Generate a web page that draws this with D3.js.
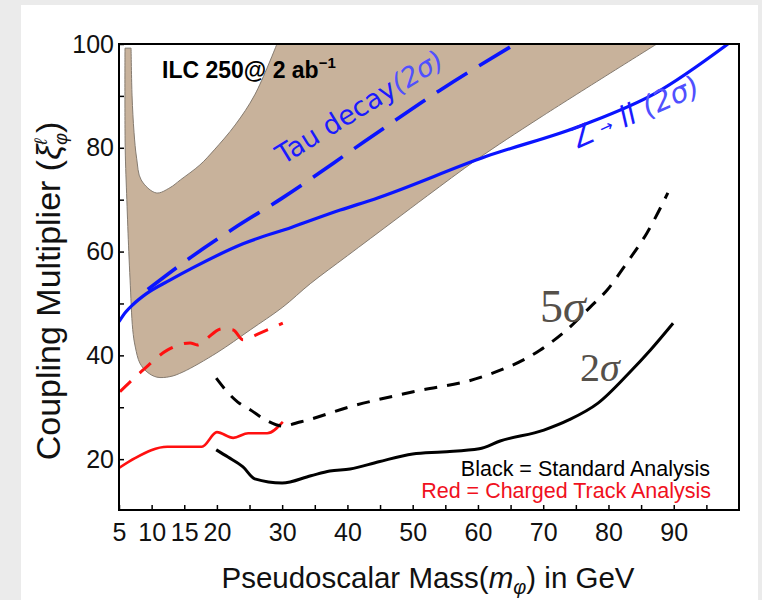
<!DOCTYPE html>
<html>
<head>
<meta charset="utf-8">
<script src="https://cdn.jsdelivr.net/npm/d3@7"></script>
<style>
  body { margin: 0; background: #ebebeb; }
  text { font-family: "Liberation Sans", Arial, sans-serif; }
</style>
</head>
<body>
<div id="chart"></div>
<script>
// axis ticks
const xTicks = d3.range(5, 100, 5);
const xLabels = [5, 10, 15, 20, 30, 40, 50, 60, 70, 80, 90];
const yTicks = d3.range(20, 101, 10);
const yLabels = [20, 40, 60, 80, 100];

// brown allowed region: outer edge (down the spike, round the bottom, up to the top)
const bandOuter = [[5.92, 99.2], [5.95, 80], [6.2, 70], [6.5, 60], [6.7, 54.5], [7.1, 45], [7.5, 41.6],
  [8.2, 38.5], [9.3, 36.8], [10.8, 35.8], [12.8, 35.9], [14.8, 36.8], [20.0, 40.5], [25.1, 44.9],
  [30.1, 49.3], [34.3, 53.8], [40.0, 59.2], [47.0, 65.8], [52.3, 70.8], [59.9, 77.8], [69.5, 85.8],
  [87.4, 100]];
// inner (white) edge, from the top back to the spike
const bandInner = [[29.2, 100], [25.8, 90.2], [22.8, 84.4], [19.6, 79.6], [17.4, 76.7], [14.4, 73.8],
  [12.8, 72.3], [10.7, 71.3], [8.4, 73.8], [7.7, 78], [7.3, 83], [7.0, 90], [6.85, 99.2]];

// Z -> ll (2 sigma), solid blue
const zllMass = [5, 6, 7.15, 9.1, 12.8, 16.5, 24.0, 31.5, 38.9, 44.1, 61.2, 76.1, 87.3, 98.3];
const zllCoupling = [46.5, 48.3, 49.8, 51.8, 54.5, 57.0, 61.5, 64.7, 68.0, 70.1, 78.3, 84.4, 90.6, 100];

// tau decay (2 sigma), dashed blue
const tauMass = [9.4, 15.9, 22.5, 30.0, 42.5, 54.2, 65.7];
const tauCoupling = [52.7, 58.8, 64.4, 70.3, 81.1, 91.1, 100];

// charged track analysis (red)
const trackMass2 = [5, 7.45, 12.4, 17.7, 20.0, 22.5, 24.8, 27.7, 30.1];
const trackSig2 = [18.3, 20.2, 22.4, 22.4, 25.2, 24.1, 25.0, 25.0, 27.2];
const trackMass5 = [5.15, 8.7, 12.4, 15.9, 17.0, 18.2, 20.8, 22.5, 24.0, 26.6, 30.1];
const trackSig5 = [33.0, 37.2, 41.0, 42.4, 42.0, 43.0, 45.1, 44.9, 43.0, 44.3, 46.2];

// standard analysis (black)
const stdMass2 = [19.9, 21.7, 24.0, 25.8, 30.0, 34.4, 37.3, 40.4, 44.8, 50.0, 54.5, 60.2, 63.4, 70.1,
  74.0, 78.4, 83.3, 86.4, 89.9];
const stdSig2 = [21.8, 20.4, 18.5, 16.2, 15.4, 16.8, 17.7, 18.1, 19.5, 21.0, 21.4, 22.0, 23.5, 25.6,
  27.6, 30.8, 36.8, 41.0, 46.2];
const stdMass5 = [19.9, 21.7, 23.2, 25.1, 27.7, 30.0, 32.9, 40.4, 50.1, 60.5, 69.5, 73.6, 77.2,
  79.8, 82.8, 85.9, 89.1];
const stdSig5 = [35.6, 32.8, 31.0, 29.5, 27.4, 26.4, 27.2, 30.1, 33.0, 35.8, 41.0, 44.9, 49.3,
  52.6, 57.8, 63.6, 71.3];

const W = 762, H = 600;
const svg = d3.select('#chart').append('svg')
        .attr('width', W)
        .attr('height', H);

svg.append('rect').attr('width', W).attr('height', H).attr('fill', '#ebebeb');
svg.append('rect').attr('x', 21).attr('y', 5).attr('width', 737).attr('height', H - 5).attr('fill', '#fff');

const x = d3.scaleLinear().domain([5, 100]).range([119, 739]);
const y = d3.scaleLinear().domain([10.2, 100]).range([510, 44]);

svg.append('clipPath').attr('id', 'plotClip')
        .append('rect')
        .attr('x', x(5)).attr('y', y(100))
        .attr('width', x(100) - x(5)).attr('height', y(10.2) - y(100));

const plot = svg.append('g').attr('clip-path', 'url(#plotClip)');

// shaded region
const edge = d3.line().x(d => x(d[0])).y(d => y(d[1])).curve(d3.curveCatmullRom);
plot.append('path')
        .attr('d', edge(bandOuter) + edge(bandInner).replace(/^M/, 'L') + 'Z')
        .attr('fill', '#c8b29b')
        .attr('stroke', '#857b70')
        .attr('stroke-width', 1);

const zip = (xs, ys) => xs.map((v, i) => [v, ys[i]]);
const curve = d3.line().x(d => x(d[0])).y(d => y(d[1])).curve(d3.curveMonotoneX);

const series = [
  { pts: zip(zllMass, zllCoupling), color: '#0a14ff', width: 3.2, dash: null },
  { pts: zip(tauMass, tauCoupling), color: '#0a14ff', width: 3.6, dash: '36,14' },
  { pts: zip(trackMass5, trackSig5), color: '#ff1010', width: 3, dash: '15,12' },
  { pts: zip(trackMass2, trackSig2), color: '#ff1010', width: 2.6, dash: null },
  { pts: zip(stdMass5, stdSig5), color: '#000', width: 3, dash: '13,10' },
  { pts: zip(stdMass2, stdSig2), color: '#000', width: 3, dash: null }
];

series.forEach(s => {
        plot.append('path')
        .attr('d', curve(s.pts))
        .attr('fill', 'none')
        .attr('stroke', s.color)
        .attr('stroke-width', s.width)
        .attr('stroke-dasharray', s.dash)
        .attr('stroke-linejoin', 'round');
});

// axes
const xAxis = d3.axisBottom(x)
        .tickValues(xTicks)
        .tickFormat(d => xLabels.includes(d) ? d : '')
        .tickSizeInner(-5).tickSizeOuter(0).tickPadding(13);
const gx = svg.append('g').attr('transform', `translate(0,${y(10.2)})`).call(xAxis);

const yAxis = d3.axisLeft(y)
        .tickValues(yTicks)
        .tickFormat(d => yLabels.includes(d) ? d : '')
        .tickSizeInner(-5).tickSizeOuter(0).tickPadding(5);
const gy = svg.append('g').attr('transform', `translate(${x(5)},0)`).call(yAxis);

[gx, gy].forEach(g => {
        g.select('.domain').remove();
        g.selectAll('line').attr('stroke', '#000').attr('stroke-width', 1.5);
        g.selectAll('text').attr('font-size', 25).attr('fill', '#111')
        .style('font-family', '"Liberation Sans", Arial, sans-serif');
});

svg.append('rect')
        .attr('x', x(5)).attr('y', y(100))
        .attr('width', x(100) - x(5)).attr('height', y(10.2) - y(100))
        .attr('fill', 'none').attr('stroke', '#000').attr('stroke-width', 2);

// axis titles
const xt = svg.append('text').attr('x', 428).attr('y', 588).attr('text-anchor', 'middle')
        .attr('font-size', 29.5).attr('fill', '#111');
xt.append('tspan').text('Pseudoscalar Mass(');
xt.append('tspan').attr('font-style', 'italic').text('m');
xt.append('tspan').attr('font-style', 'italic').attr('font-size', 20).attr('dy', 6).text('φ');
xt.append('tspan').attr('dy', -6).text(') in GeV');

const yt = svg.append('text').attr('transform', 'translate(60,291) rotate(-90)')
        .attr('text-anchor', 'middle').attr('font-size', 34).attr('fill', '#111');
yt.append('tspan').text('Coupling Multiplier (');
yt.append('tspan').attr('font-style', 'italic').text('ξ');
yt.append('tspan').attr('font-style', 'italic').attr('font-size', 18).attr('dy', -13).text('ℓ');
yt.append('tspan').attr('font-style', 'italic').attr('font-size', 18).attr('dx', -6).attr('dy', 20).text('φ');
yt.append('tspan').attr('dy', -7).text(')');

// collider label
const ilc = svg.append('text').attr('x', 162).attr('y', 78)
        .attr('font-size', 23).attr('font-weight', 'bold').attr('fill', '#000');
ilc.append('tspan').text('ILC 250@ 2 ab');
ilc.append('tspan').attr('font-size', 15).attr('dy', -10).text('−1');

// curve labels
const tau = svg.append('text').attr('transform', 'translate(283,165) rotate(-31.5)')
        .attr('font-size', 27).attr('fill', '#1a1aff')
        .style('font-family', '"DejaVu Sans", sans-serif');
tau.append('tspan').text('Tau decay');
tau.append('tspan').attr('font-style', 'italic').attr('font-weight', 200).attr('fill', '#5050ff').text('(2σ)');

const zl = svg.append('text').attr('transform', 'translate(577,149) rotate(-24)')
        .attr('font-size', 29).attr('fill', '#1a1aff')
        .style('font-family', '"DejaVu Sans", sans-serif');
zl.append('tspan').text('Z ');
zl.append('tspan').attr('font-size', 16).attr('dy', -3).text('→');
zl.append('tspan').attr('dy', 3).attr('font-style', 'italic').text(' ll ');
zl.append('tspan').attr('font-style', 'italic').attr('font-weight', 200).attr('fill', '#5050ff').text('(2σ)');

const sig = [
  { label: '5', xPos: 540, yPos: 322, size: 46 },
  { label: '2', xPos: 580, yPos: 381, size: 40 }
];
sig.forEach(s => {
        const t = svg.append('text').attr('x', s.xPos).attr('y', s.yPos)
        .attr('font-size', s.size).attr('fill', '#55504a')
        .style('font-family', '"Liberation Serif", "DejaVu Serif", serif');
        t.append('tspan').text(s.label);
        t.append('tspan').attr('font-style', 'italic').text('σ');
});

// legend text
svg.append('text').attr('x', 710).attr('y', 476).attr('text-anchor', 'end')
        .attr('font-size', 21.5).attr('fill', '#000').text('Black = Standard Analysis');
svg.append('text').attr('x', 711).attr('y', 498).attr('text-anchor', 'end')
        .attr('font-size', 21.5).attr('fill', '#f01020').text('Red = Charged Track Analysis');
</script>
</body>
</html>
